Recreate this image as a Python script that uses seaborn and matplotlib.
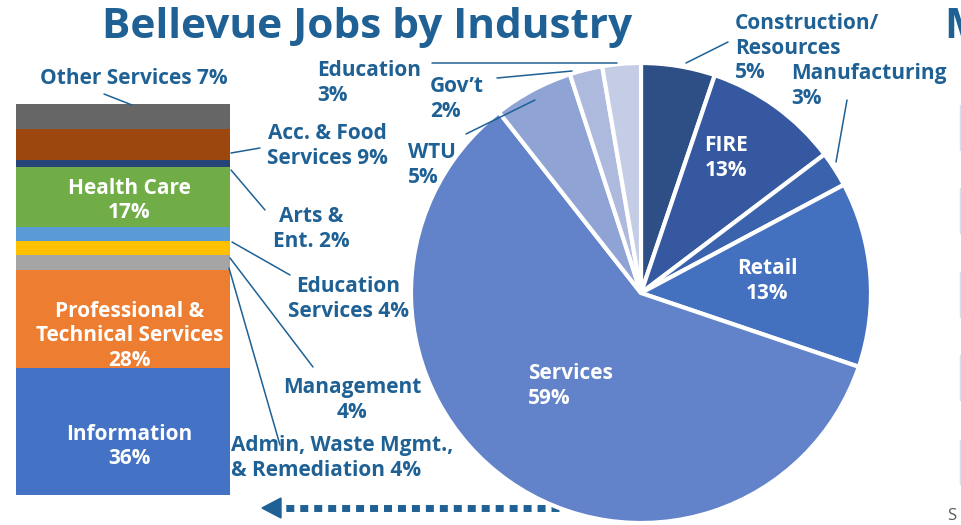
import matplotlib.pyplot as plt
import seaborn as sns
from matplotlib.lines import Line2D
from matplotlib.patches import Polygon

# chart data
pie_names = ["Construction/\nResources", "FIRE", "Manufacturing", "Retail",
             "Services", "WTU", "Gov’t", "Education"]
pie_pct = [5, 13, 3, 13, 59, 5, 2, 3]              # printed labels
pie_share = [5.2, 9.5, 2.5, 13.0, 59.2, 5.6, 2.3, 2.7]  # slice sizes as drawn
pie_colors = ["#2E4E86", "#3558A0", "#3B62AC", "#4470C0",
              "#6283C9", "#8FA4D4", "#AEB9DE", "#C5CDE6"]

# services breakdown, bottom to top
bar_names = ["Information", "Professional &\nTechnical Services",
             "Admin, Waste Mgmt.,\n& Remediation", "Management",
             "Education\nServices", "Health Care", "Arts &\nEnt.",
             "Acc. & Food\nServices", "Other Services"]
bar_pct = [36, 28, 4, 4, 4, 17, 2, 9, 7]
bar_colors = ["#4472C4", "#ED7D31", "#A5A5A5", "#FFC000", "#5B9BD5",
              "#70AD47", "#264478", "#9C470E", "#666666"]

TXT = "#1F6194"
W, H = 961, 525
LS = 1.2

sns.set_style("white")
plt.rcParams['font.family'] = ['Open Sans', 'DejaVu Sans']

fig = plt.figure(figsize=(W / 100, H / 100), dpi=100)


def fx(x):
    return x / W


def fy(y):
    return 1 - y / H


# pie
ax_pie = fig.add_axes([fx(411), fy(523), 460 / W, 460 / H])
ax_pie.pie(pie_share, colors=pie_colors, startangle=90, counterclock=False,
           wedgeprops=dict(edgecolor="white", linewidth=3))
ax_pie.set_xlim(-1, 1)
ax_pie.set_ylim(-1, 1)
ax_pie.set_aspect("equal")
ax_pie.axis("off")

# stacked bar
ax_bar = fig.add_axes([fx(16), fy(495), 214 / W, 391 / H])
bottom = 0
for name, pct, col in zip(bar_names, bar_pct, bar_colors):
    sns.barplot(x=[0], y=[pct], bottom=bottom, color=col, width=1,
                saturation=1, linewidth=0, edgecolor=col, ax=ax_bar)
    bottom += pct
ax_bar.set_xlim(-0.5, 0.5)
ax_bar.set_ylim(0, sum(bar_pct))
ax_bar.axis("off")

# white labels inside the bar
cum = 0
for i, pct in enumerate(bar_pct):
    if i in (0, 1, 5):
        off = {0: -15, 1: -17, 5: -3}[i]
        ax_bar.annotate(f"{bar_names[i]}\n{pct}%", (0.03, cum + pct / 2),
                        xytext=(0, off * 0.72), textcoords="offset points",
                        ha="center", va="center", color="white",
                        fontsize=15, fontweight="bold", linespacing=LS)
    cum += pct

# title
fig.text(fx(367), fy(27), "Bellevue Jobs by Industry", ha="center",
         va="center", color=TXT, fontsize=30.5, fontweight="bold")

# pie labels: (index, sep, x, y, ha, colour)
pie_ann = [(0, "\n", 735, 48, "left", TXT),
           (2, "\n", 791, 86, "left", TXT),
           (5, "\n", 408, 165, "left", TXT),
           (6, "\n", 430, 99, "left", TXT),
           (7, "\n", 317, 83, "left", TXT),
           (1, "\n", 726, 158, "center", "white"),
           (3, "\n", 767, 281, "center", "white"),
           (4, "\n", 528, 386, "left", "white")]
for i, sep, x, y, ha, c in pie_ann:
    fig.text(fx(x), fy(y), f"{pie_names[i]}{sep}{pie_pct[i]}%", ha=ha,
             va="center", color=c, fontsize=15, fontweight="bold",
             linespacing=LS)

# bar labels outside
bar_ann = [(8, " ", 134, 78, "center"),
           (7, " ", 327, 146, "center"),
           (6, " ", 311, 229, "center"),
           (4, " ", 348, 299, "center"),
           (3, "\n", 352, 400, "center"),
           (2, " ", 231, 458, "left")]
for i, sep, x, y, ha in bar_ann:
    fig.text(fx(x), fy(y), f"{bar_names[i]}{sep}{bar_pct[i]}%", ha=ha,
             va="center", color=TXT, fontsize=15, fontweight="bold",
             linespacing=LS)

# leader lines
leaders = [((104, 94), (132, 105)), ((231, 153), (260, 148)),
           ((231, 170), (265, 210)), ((232, 242), (290, 275)),
           ((230, 258), (313, 367)), ((229, 268), (280, 445)),
           ((686, 63), (728, 42)), ((836, 162), (847, 100)),
           ((432, 63), (617, 63)), ((497, 78), (572, 71)),
           ((466, 134), (535, 100))]
for (x0, y0), (x1, y1) in leaders:
    fig.add_artist(Line2D([fx(x0), fx(x1)], [fy(y0), fy(y1)], color=TXT,
                          linewidth=1.1))

# dotted arrow
fig.add_artist(Line2D([fx(559), fx(280)], [fy(508), fy(508)], color=TXT,
                      linewidth=5, dashes=(1.15, 0.86), zorder=-1))
fig.add_artist(Polygon([(fx(262), fy(508)), (fx(281), fy(498)),
                        (fx(281), fy(518))], closed=True, color=TXT))

# edge of the next slide
fig.text(fx(944), fy(27), "M", ha="left", va="center", color=TXT,
         fontsize=30.5, fontweight="bold")
fig.text(fx(947), fy(516), "S", ha="left", va="center", color="#595959",
         fontsize=12)
for y0, y1 in [(105, 150), (188, 233), (272, 317), (355, 400), (440, 484)]:
    fig.add_artist(Line2D([fx(959.5), fx(959.5)], [fy(y0), fy(y1)],
                          color="#D9DEEA", linewidth=1))

plt.savefig("out.png", dpi=100)
